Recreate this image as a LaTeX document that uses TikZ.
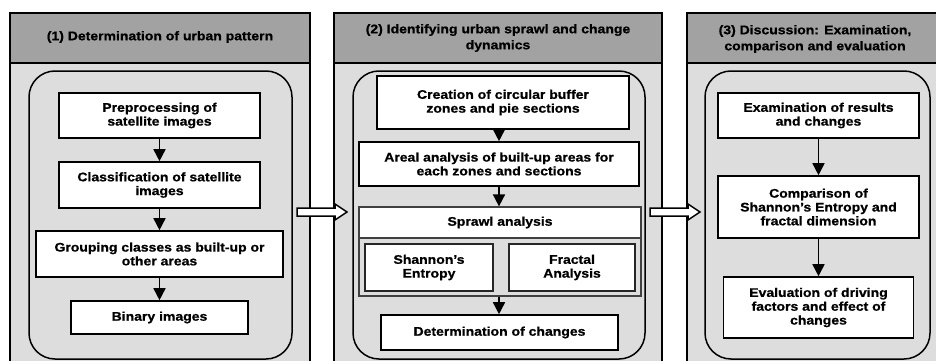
\documentclass[tikz,border=0pt]{standalone}
\usepackage{fontspec}
\setmainfont{Liberation Sans}[FakeStretch=1.12, BoldFeatures={FakeBold=0.8}]
\usetikzlibrary{arrows.meta}
\definecolor{hdr}{HTML}{A2A2A2}
\definecolor{bodyg}{HTML}{DDDDDD}
\begin{document}
\begin{tikzpicture}[x=1pt,y=-1pt,
 txt/.style={font=\bfseries\fontsize{12.5}{13.8}\selectfont, align=center, inner sep=0pt},
 htxt/.style={font=\bfseries\fontsize{12.5}{16}\selectfont, align=center, inner sep=0pt},
 box/.style={txt, draw, fill=white, line width=1.6pt},
 subbox/.style={box, draw=black!85, line width=1.9pt},
 flow/.style={line width=1.6pt, -{Triangle[length=12pt,width=12pt]}},
 panel/.style={draw, line width=1.8pt, fill=bodyg},
 header/.style={draw, line width=1.8pt, fill=hdr},
 innerpanel/.style={draw, line width=1.5pt, fill=bodyg, rounded corners=26pt},
 blockarrow/.style={draw, line width=1.5pt, fill=white, line join=miter}]
\useasboundingbox (0,0) rectangle (936,361);
\fill[white] (0,0) rectangle (936,361);

% panels
\draw[panel] (10,63) rectangle (310,380);
\draw[header] (10,13) rectangle (310,63);
\draw[panel] (334,63) rectangle (662,380);
\draw[header] (334,13) rectangle (662,63);
\draw[panel] (687,63) rectangle (960,380);
\draw[header] (687,13) rectangle (960,63);

\node[htxt] (h1) at (160,37) {(1) Determination of urban pattern};
\node[htxt] (h2) at (498,38) {(2) Identifying urban sprawl and change\\dynamics};
\node[htxt] (h3) at (815,39) {(3) Discussion: Examination,\\comparison and evaluation};

% inner rounded panels
\draw[innerpanel] (29,71) rectangle (292,359);
\draw[innerpanel] (353,71) rectangle (645,359);
\draw[innerpanel] (705,71) rectangle (930,359);

% panel 1
\node[box, minimum width=201pt, minimum height=45pt] (a1) at (159.5,115.5) {Preprocessing of\\satellite images};
\node[box, minimum width=201pt, minimum height=46pt] (a2) at (159.5,185) {Classification of satellite\\images};
\node[box, minimum width=247pt, minimum height=46pt] (a3) at (159.5,254) {Grouping classes as built-up or\\other areas};
\node[box, minimum width=177pt, minimum height=33pt] (a4) at (159.5,317.5) {Binary images};
\draw[flow] (a1) -- (a2);
\draw[flow] (a2) -- (a3);
\draw[flow] (a3) -- (a4);

% panel 2
\node[box, minimum width=252pt, minimum height=53pt] (b1) at (503,102.5) {Creation of circular buffer\\zones and pie sections};
\node[box, minimum width=280pt, minimum height=44pt] (b2) at (499,164) {Areal analysis of built-up areas for\\each zones and sections};
\node[draw=black!75, line width=1.2pt, fill=bodyg, minimum width=282pt, minimum height=89pt, inner sep=0pt] (spc) at (500,251.5) {};
\node[box, draw=black!75, line width=1.2pt, minimum width=282pt, minimum height=31pt] (sp) at (500,222.5) {Sprawl analysis};
\node[subbox, minimum width=128pt, minimum height=47pt] (b3) at (429,267.5) {Shannon's\\Entropy};
\node[subbox, minimum width=126pt, minimum height=47pt] (b4) at (572,267.5) {Fractal\\Analysis};
\node[box, minimum width=237pt, minimum height=35pt] (b5) at (499.5,332.5) {Determination of changes};
\draw[flow] (b2.north |- b1.south) -- (b2.north);
\draw[flow] (b2.south) -- (b2.south |- spc.north);
\draw[flow] (b2.south |- spc.south) -- (b2.south |- b5.north);

% panel 3
\node[box, minimum width=201pt, minimum height=45pt] (c1) at (818.5,115.5) {Examination of results\\and changes};
\node[box, minimum width=201pt, minimum height=62pt] (c2) at (818.5,207) {Comparison of\\Shannon's Entropy and\\fractal dimension};
\node[box, minimum width=190pt, minimum height=61pt] (c3) at (818.5,307.5) {Evaluation of driving\\factors and effect of\\changes};
\draw[flow] (c1) -- (c2);
\draw[flow] (c2) -- (c3);

% block arrows between panels
\draw[blockarrow] (297,208) -- (335,208) -- (335,204) -- (347,212) -- (335,220) -- (335,216) -- (297,216) -- cycle;
\draw[blockarrow] (650,208) -- (688,208) -- (688,204) -- (700,212) -- (688,220) -- (688,216) -- (650,216) -- cycle;
\end{tikzpicture}
\end{document}
